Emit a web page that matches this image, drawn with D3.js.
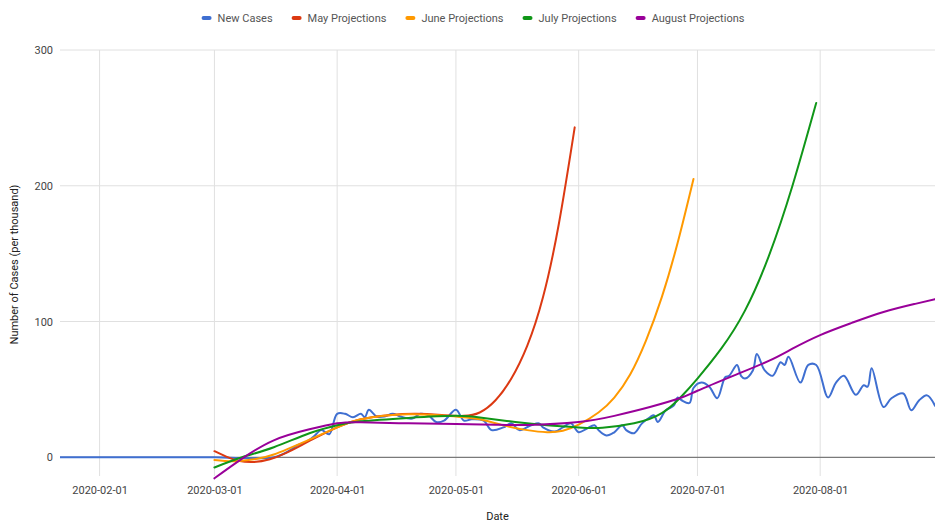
<!DOCTYPE html>
<html>
<head>
<meta charset="utf-8">
<script src="https://cdn.jsdelivr.net/npm/d3@7"></script>
<style>
  html, body { margin: 0; padding: 0; background: #fff; }
  svg { display: block; font-family: Roboto, "Noto Sans", Arial, sans-serif; }
</style>
</head>
<body>
<svg id="chart" width="935" height="522"></svg>
<script>
// ---------- DATA ----------
const seriesNames = ["New Cases", "May Projections", "June Projections", "July Projections", "August Projections"];
const seriesColors = ["#3f6fd1", "#dc3912", "#ff9900", "#109618", "#990099"];

const xTickDates = ["2020-02-01", "2020-03-01", "2020-04-01", "2020-05-01", "2020-06-01", "2020-07-01", "2020-08-01"];
const yTickValues = [0, 100, 200, 300];

const newCases = [
  ["2020-01-22", 0], ["2020-02-15", 0], ["2020-03-01", 0], ["2020-03-16", 0],
  ["2020-03-20", 5], ["2020-03-22", 9], ["2020-03-23", 10], ["2020-03-24", 11],
  ["2020-03-26", 15], ["2020-03-28", 20], ["2020-03-30", 17], ["2020-04-01", 32],
  ["2020-04-03", 32], ["2020-04-05", 29.5], ["2020-04-07", 32], ["2020-04-08", 29.5],
  ["2020-04-09", 35], ["2020-04-11", 30], ["2020-04-13", 30], ["2020-04-15", 32],
  ["2020-04-17", 30], ["2020-04-20", 28.5], ["2020-04-22", 32], ["2020-04-24", 31],
  ["2020-04-26", 26], ["2020-04-28", 27], ["2020-05-01", 35], ["2020-05-03", 27],
  ["2020-05-05", 28], ["2020-05-08", 27], ["2020-05-10", 20], ["2020-05-13", 22],
  ["2020-05-15", 25], ["2020-05-17", 20], ["2020-05-20", 23.6], ["2020-05-22", 25],
  ["2020-05-23", 22], ["2020-05-26", 19], ["2020-05-28", 22], ["2020-05-30", 25],
  ["2020-06-01", 18.5], ["2020-06-03", 21], ["2020-06-05", 23.6], ["2020-06-06", 20],
  ["2020-06-08", 16], ["2020-06-10", 18.4], ["2020-06-12", 23.6], ["2020-06-13", 20],
  ["2020-06-15", 17.7], ["2020-06-17", 25], ["2020-06-19", 29.5], ["2020-06-20", 31],
  ["2020-06-21", 26], ["2020-06-23", 34.6], ["2020-06-25", 38], ["2020-06-26", 44],
  ["2020-06-27", 42], ["2020-06-29", 40], ["2020-06-30", 51], ["2020-07-02", 55],
  ["2020-07-04", 52], ["2020-07-06", 43.5], ["2020-07-08", 59], ["2020-07-09", 60],
  ["2020-07-11", 68], ["2020-07-12", 60], ["2020-07-13", 58], ["2020-07-15", 64],
  ["2020-07-16", 76], ["2020-07-18", 64], ["2020-07-20", 60], ["2020-07-22", 70],
  ["2020-07-23", 68], ["2020-07-24", 74], ["2020-07-27", 55], ["2020-07-29", 68],
  ["2020-07-31", 68], ["2020-08-03", 44], ["2020-08-05", 55], ["2020-08-07", 60],
  ["2020-08-10", 46], ["2020-08-12", 53], ["2020-08-13", 52], ["2020-08-14", 65.6],
  ["2020-08-17", 37], ["2020-08-19", 43.5], ["2020-08-22", 47], ["2020-08-24", 34.6],
  ["2020-08-26", 42], ["2020-08-28", 45.6], ["2020-08-30", 38]
];

const mayProjections = [
  ["2020-03-01", 4.5], ["2020-03-04", 0.5], ["2020-03-07", -2.5], ["2020-03-11", -3.5],
  ["2020-03-15", -1.5], ["2020-03-19", 3], ["2020-03-25", 12], ["2020-04-01", 22],
  ["2020-04-07", 28], ["2020-04-14", 31], ["2020-04-21", 32], ["2020-04-28", 31],
  ["2020-05-03", 30.5], ["2020-05-07", 33], ["2020-05-11", 42], ["2020-05-15", 58],
  ["2020-05-19", 82], ["2020-05-23", 118], ["2020-05-27", 172], ["2020-05-31", 243]
];

const juneProjections = [
  ["2020-03-01", -2], ["2020-03-06", -3], ["2020-03-11", -1.5], ["2020-03-16", 2],
  ["2020-03-25", 13], ["2020-04-01", 22], ["2020-04-07", 28], ["2020-04-19", 31.7],
  ["2020-05-01", 30], ["2020-05-07", 28], ["2020-05-13", 23.5], ["2020-05-19", 20],
  ["2020-05-24", 18.5], ["2020-05-28", 19.5], ["2020-06-01", 24], ["2020-06-06", 33],
  ["2020-06-10", 44], ["2020-06-14", 61], ["2020-06-18", 86], ["2020-06-22", 118],
  ["2020-06-26", 158], ["2020-06-30", 205]
];

const julyProjections = [
  ["2020-03-01", -7.5], ["2020-03-08", 0], ["2020-03-16", 7.4], ["2020-03-25", 17.7],
  ["2020-04-01", 23.6], ["2020-04-07", 26.5], ["2020-04-19", 29], ["2020-05-01", 30.5],
  ["2020-05-08", 29], ["2020-05-16", 26], ["2020-05-24", 23.6], ["2020-06-01", 22],
  ["2020-06-07", 21.8], ["2020-06-15", 25], ["2020-06-22", 32.5], ["2020-06-27", 45],
  ["2020-07-01", 58], ["2020-07-07", 80], ["2020-07-13", 108], ["2020-07-19", 148],
  ["2020-07-25", 200], ["2020-07-31", 261]
];

const augustProjections = [
  ["2020-03-01", -15.5], ["2020-03-08", -1], ["2020-03-16", 12.5], ["2020-03-25", 20.6],
  ["2020-04-01", 25], ["2020-04-07", 25.8], ["2020-04-19", 25], ["2020-05-01", 24.5],
  ["2020-05-11", 24], ["2020-05-19", 23.8], ["2020-06-01", 26], ["2020-06-10", 30.5],
  ["2020-06-19", 37], ["2020-06-27", 44], ["2020-07-01", 49], ["2020-07-10", 60],
  ["2020-07-19", 71], ["2020-07-25", 80], ["2020-08-01", 90], ["2020-08-09", 99],
  ["2020-08-17", 107], ["2020-08-25", 113], ["2020-08-30", 116.5]
];

const allSeries = [newCases, mayProjections, juneProjections, julyProjections, augustProjections];

// ---------- CHART ----------
(function () {
const parse = d3.timeParse("%Y-%m-%d");
const fmt = d3.timeFormat("%Y-%m-%d");
const svg = d3.select("#chart");
const H = 522;
const pLeft = 60, pRight = 935, pTop = 50, pBottom = 479;

const x = d3.scaleTime().domain([parse("2020-01-22"), parse("2020-08-30")]).range([pLeft, pRight]);
const y = d3.scaleLinear().domain([-16, 300]).range([pBottom, pTop]);

const textColor = "#444";

// gridlines
svg.append("g").selectAll("line").data(xTickDates.map(parse)).join("line")
  .attr("x1", d => x(d)).attr("x2", d => x(d))
  .attr("y1", pTop).attr("y2", pBottom - 3)
  .attr("stroke", "#e0e0e0").attr("stroke-width", 1);
svg.append("g").selectAll("line").data(yTickValues.filter(v => v !== 0)).join("line")
  .attr("x1", pLeft).attr("x2", pRight)
  .attr("y1", d => y(d)).attr("y2", d => y(d))
  .attr("stroke", "#e0e0e0").attr("stroke-width", 1);

// baseline
svg.append("line")
  .attr("x1", pLeft).attr("x2", pRight)
  .attr("y1", y(0)).attr("y2", y(0))
  .attr("stroke", "#7a7a7a").attr("stroke-width", 1.2);

// axes
const xAxis = d3.axisBottom(x).tickValues(xTickDates.map(parse)).tickFormat(fmt).tickSize(0).tickPadding(0);
const gx = svg.append("g").attr("transform", `translate(0,${pBottom + 7})`).call(xAxis);
gx.select(".domain").remove();
gx.selectAll("text").attr("fill", textColor).attr("font-size", 11).attr("font-family", "Roboto, sans-serif");

const yAxis = d3.axisLeft(y).tickValues(yTickValues).tickFormat(d3.format("d")).tickSize(0).tickPadding(0);
const gy = svg.append("g").attr("transform", `translate(${pLeft - 7},0)`).call(yAxis);
gy.select(".domain").remove();
gy.selectAll("text").attr("fill", textColor).attr("font-size", 11).attr("font-family", "Roboto, sans-serif");

// axis titles
svg.append("text").attr("x", (pLeft + pRight) / 2).attr("y", 520)
  .attr("text-anchor", "middle").attr("font-size", 11).attr("fill", "#222").text("Date");
svg.append("text").attr("transform", `translate(18,${(pTop + pBottom) / 2}) rotate(-90)`)
  .attr("text-anchor", "middle").attr("font-size", 11).attr("fill", "#222")
  .text("Number of Cases (per thousand)");

// clip
svg.append("clipPath").attr("id", "clip").append("rect")
  .attr("x", pLeft).attr("y", 0).attr("width", pRight - pLeft).attr("height", H);

const blueLine = d3.line()
  .x(d => x(parse(d[0])))
  .y(d => y(d[1]))
  .curve(d3.curveCatmullRom.alpha(0.5));
const projLine = d3.line()
  .x(d => x(parse(d[0])))
  .y(d => y(d[1]))
  .curve(d3.curveNatural);

const gl = svg.append("g").attr("clip-path", "url(#clip)");
allSeries.forEach((s, i) => {
  gl.append("path").datum(s)
    .attr("d", i === 0 ? blueLine : projLine)
    .attr("fill", "none")
    .attr("stroke", seriesColors[i])
    .attr("stroke-width", 2)
    .attr("stroke-linejoin", "round")
    .attr("stroke-linecap", "round");
});

// legend
const legend = svg.append("g").attr("font-size", 11);
const items = legend.selectAll("g").data(seriesNames).join("g");
items.append("rect").attr("width", 10).attr("height", 4).attr("rx", 2)
  .attr("y", -2).attr("fill", (d, i) => seriesColors[i]);
items.append("text").attr("x", 16).attr("dy", "0.35em").attr("fill", "#555").text(d => d);
let cx = 0;
const gap = 19;
items.each(function () {
  const w = 16 + this.querySelector("text").getComputedTextLength();
  d3.select(this).attr("transform", `translate(${cx},18)`);
  cx += w + gap;
});
const totalW = cx - gap;
legend.attr("transform", `translate(${473 - totalW / 2},0)`);
})();
</script>
</body>
</html>
